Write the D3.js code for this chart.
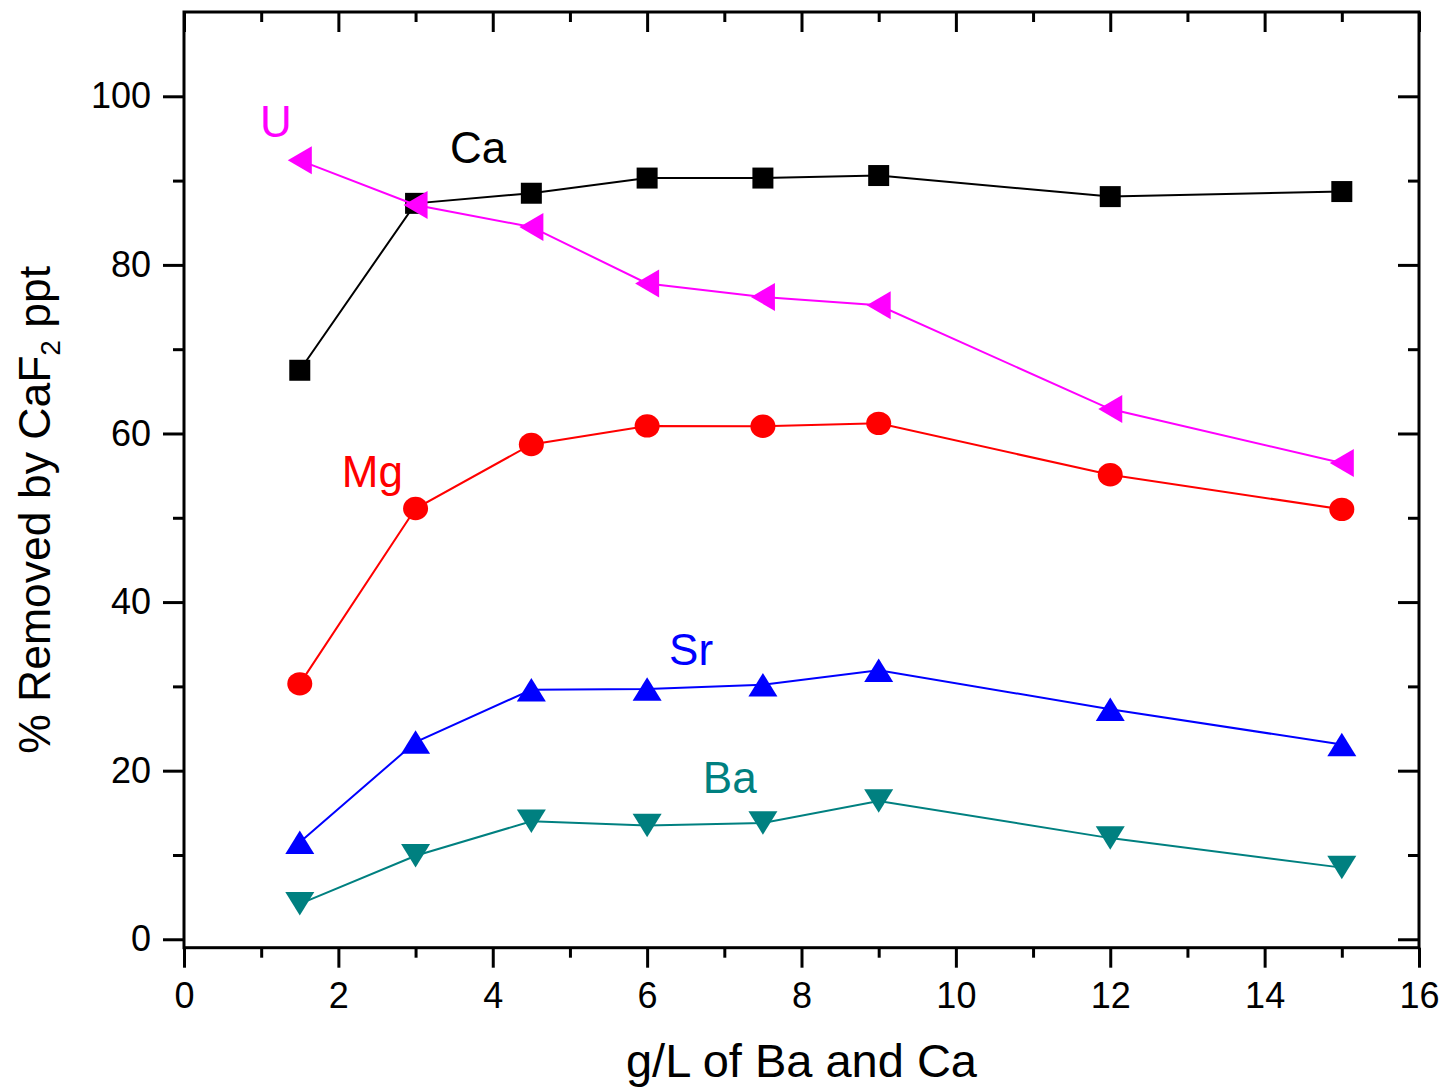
<!DOCTYPE html>
<html>
<head>
<meta charset="utf-8">
<script src="https://cdn.jsdelivr.net/npm/d3@7"></script>
<style>
  body { margin: 0; background: #fff; }
  text { font-family: "Liberation Sans", Arial, sans-serif; }
</style>
</head>
<body>
<div class="chart"></div>
<script>
// concentration of Ba and Ca (g/L)
const doses = [1.5, 3, 4.5, 6, 7.5, 9, 12, 15];

// % removed for each element
const caValues = [67.5, 87.3, 88.5, 90.3, 90.3, 90.6, 88.1, 88.7];
const uValues  = [92.4, 87.1, 84.5, 77.8, 76.2, 75.2, 62.9, 56.5];
const mgValues = [30.3, 51.1, 58.7, 60.9, 60.85, 61.2, 55.1, 51.0];
const srValues = [11.5, 23.4, 29.6, 29.7, 30.2, 31.9, 27.3, 23.1];
const baValues = [4.2, 9.9, 14.0, 13.5, 13.8, 16.4, 12.0, 8.5];

const seriesNames = ["Ca", "Mg", "Sr", "Ba", "U"];
const seriesColors = ["#000000", "#ff0000", "#0000ff", "#008080", "#ff00ff"];
const seriesShapes = ["square", "circle", "up", "down", "left"];
const seriesValues = [caValues, mgValues, srValues, baValues, uValues];

// element labels placed in data units
const labelX = [3.81, 2.44, 6.57, 7.07, 1.19];
const labelY = [92.1, 53.7, 32.5, 17.3, 95.2];

const xMajorTicks = [0, 2, 4, 6, 8, 10, 12, 14, 16];
const xMinorTicks = [1, 3, 5, 7, 9, 11, 13, 15];
const yMajorTicks = [0, 20, 40, 60, 80, 100];
const yMinorTicks = [10, 30, 50, 70, 90];

const width = 1444;
const height = 1088;
const plotLeft = 184, plotRight = 1419, plotTop = 12, plotBottom = 947.7;

const x = d3.scaleLinear().domain([0, 16]).range([plotLeft, plotRight]);
const y = d3.scaleLinear().domain([-1, 110]).range([plotBottom, plotTop]);

const svg = d3.select('.chart')
  .append('svg')
  .attr('width', width)
  .attr('height', height);

// custom marker shapes, centred on their bounding box
function triangle(dir, w, h) {
  return {
    draw(ctx) {
      if (dir == "up") {
        ctx.moveTo(0, -h / 2); ctx.lineTo(w / 2, h / 2); ctx.lineTo(-w / 2, h / 2);
      } else if (dir == "down") {
        ctx.moveTo(0, h / 2); ctx.lineTo(w / 2, -h / 2); ctx.lineTo(-w / 2, -h / 2);
      } else {
        ctx.moveTo(-w / 2, 0); ctx.lineTo(w / 2, -h / 2); ctx.lineTo(w / 2, h / 2);
      }
      ctx.closePath();
    }
  };
}
const shapeTypes = {
  square: { draw(ctx) { ctx.rect(-10.5, -10.5, 21, 21); } },
  up: triangle("up", 29, 23.5),
  down: triangle("down", 29, 23.5),
  left: triangle("left", 24, 28)
};

// axes: bottom / left ticks point out, top / right ticks point in
function styleAxis(g) {
  g.select('.domain').remove();
  g.selectAll('.tick line').attr('stroke', '#000').attr('stroke-width', 3);
  g.selectAll('.tick text')
    .attr('fill', '#000')
    .style('font-size', '36px')
    .style('font-family', '"Liberation Sans", Arial, sans-serif');
}

svg.append('g').attr('transform', `translate(0,${plotBottom})`)
  .call(d3.axisBottom(x).tickValues(xMajorTicks).tickSize(20).tickPadding(15).tickFormat(d3.format('d')))
  .call(styleAxis);
svg.append('g').attr('transform', `translate(0,${plotBottom})`)
  .call(d3.axisBottom(x).tickValues(xMinorTicks).tickSize(10).tickFormat(''))
  .call(styleAxis);
svg.append('g').attr('transform', `translate(0,${plotTop})`)
  .call(d3.axisTop(x).tickValues(xMajorTicks).tickSize(-20).tickFormat(''))
  .call(styleAxis);
svg.append('g').attr('transform', `translate(0,${plotTop})`)
  .call(d3.axisTop(x).tickValues(xMinorTicks).tickSize(-10).tickFormat(''))
  .call(styleAxis);

svg.append('g').attr('transform', `translate(${plotLeft},0)`)
  .call(d3.axisLeft(y).tickValues(yMajorTicks).tickSize(21).tickPadding(12).tickFormat(d3.format('d')))
  .call(styleAxis);
svg.append('g').attr('transform', `translate(${plotLeft},0)`)
  .call(d3.axisLeft(y).tickValues(yMinorTicks).tickSize(11).tickFormat(''))
  .call(styleAxis);
svg.append('g').attr('transform', `translate(${plotRight},0)`)
  .call(d3.axisRight(y).tickValues(yMajorTicks).tickSize(-21).tickFormat(''))
  .call(styleAxis);
svg.append('g').attr('transform', `translate(${plotRight},0)`)
  .call(d3.axisRight(y).tickValues(yMinorTicks).tickSize(-11).tickFormat(''))
  .call(styleAxis);

// frame
svg.append('rect')
  .attr('x', plotLeft).attr('y', plotTop)
  .attr('width', plotRight - plotLeft).attr('height', plotBottom - plotTop)
  .attr('fill', 'none').attr('stroke', '#000').attr('stroke-width', 3);

// lines and markers
const line = d3.line().x(d => x(d[0])).y(d => y(d[1]));

seriesNames.forEach((name, i) => {
  const pts = doses.map((d, j) => [d, seriesValues[i][j]]);
  const color = seriesColors[i];

  svg.append('path')
    .datum(pts)
    .attr('d', line)
    .attr('fill', 'none')
    .attr('stroke', color)
    .attr('stroke-width', 2);

  if (seriesShapes[i] == "circle") {
    svg.selectAll(null)
      .data(pts)
      .enter()
      .append('ellipse')
      .attr('cx', d => x(d[0]))
      .attr('cy', d => y(d[1]))
      .attr('rx', 12.5)
      .attr('ry', 11.7)
      .attr('fill', color);
  } else {
    svg.selectAll(null)
      .data(pts)
      .enter()
      .append('path')
      .attr('transform', d => `translate(${x(d[0])},${y(d[1])})`)
      .attr('d', d3.symbol().type(shapeTypes[seriesShapes[i]]))
      .attr('fill', color);
  }

  svg.append('text')
    .attr('x', x(labelX[i]))
    .attr('y', y(labelY[i]))
    .attr('text-anchor', 'middle')
    .attr('font-size', 44)
    .attr('fill', color)
    .text(name);
});

// axis titles
svg.append('text')
  .attr('x', (plotLeft + plotRight) / 2)
  .attr('y', 1077)
  .attr('text-anchor', 'middle')
  .attr('font-size', 47)
  .text('g/L of Ba and Ca');

const yTitle = svg.append('text')
  .attr('transform', `translate(50,${(plotTop + plotBottom) / 2 + 30}) rotate(-90)`)
  .attr('text-anchor', 'middle')
  .attr('font-size', 44.5);
yTitle.append('tspan').text('% Removed by CaF');
yTitle.append('tspan').attr('font-size', 28).attr('dy', 10).text('2');
yTitle.append('tspan').attr('dy', -10).text(' ppt');
</script>
</body>
</html>
